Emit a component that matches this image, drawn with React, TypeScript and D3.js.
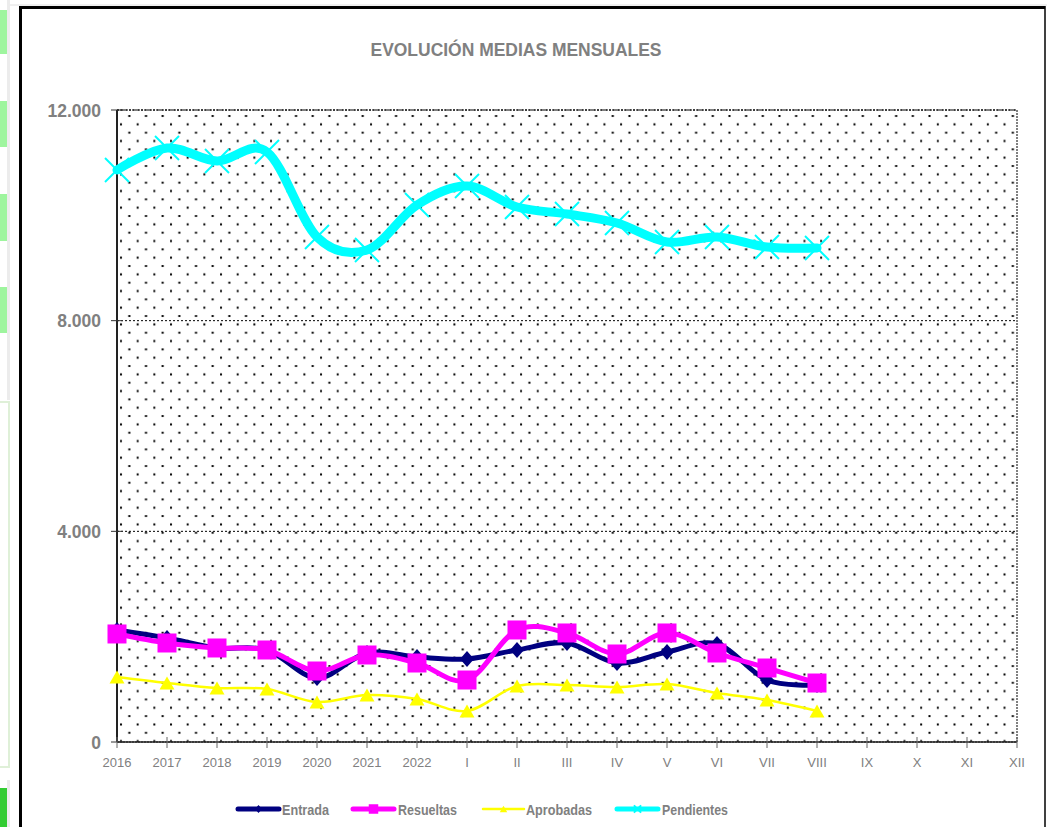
import React from "react";
import * as d3 from "d3";

const categories = ["2016","2017","2018","2019","2020","2021","2022","I","II","III","IV","V","VI","VII","VIII","IX","X","XI","XII"];
const entrada = [2127,1975,1785,1747,1215,1690,1614,1576,1747,1880,1500,1709,1861,1177,1082];
const resueltas = [2051,1880,1785,1747,1348,1652,1500,1177,2127,2070,1671,2070,1690,1405,1120];
const aprobadas = [1234,1120,1025,1006,759,892,816,589,1063,1082,1044,1101,930,797,589];
const pendientes = [10861,11278,11032,11203,9589,9342,10196,10557,10158,10025,9854,9494,9589,9399,9380];
const yTicks = [0,4000,8000,12000];
const yTickLabels = ["0","4.000","8.000","12.000"];
const title = "EVOLUCIÓN MEDIAS MENSUALES";

const W = 1047, H = 827;
const PL = 117, PR = 1017, PT = 110, PB = 742;

type Series = { name: string; values: number[]; color: string; width: number; marker: string };
const series: Series[] = [
  { name: "Entrada", values: entrada, color: "#000080", width: 5, marker: "diamond" },
  { name: "Resueltas", values: resueltas, color: "#ff00ff", width: 5, marker: "square" },
  { name: "Aprobadas", values: aprobadas, color: "#ffff00", width: 2.5, marker: "triangle" },
  { name: "Pendientes", values: pendientes, color: "#00ffff", width: 9, marker: "x" },
];

function Marker({ type, x, y, color, s }: { type: string; x: number; y: number; color: string; s: number }) {
  if (type === "diamond") {
    const w = 7 * s, h = 8 * s;
    return <polygon points={`${x},${y - h} ${x + w},${y} ${x},${y + h} ${x - w},${y}`} fill={color} />;
  }
  if (type === "square") {
    const a = 9.5 * s;
    return <rect x={x - a} y={y - a} width={2 * a} height={2 * a} fill={color} />;
  }
  if (type === "triangle") {
    const w = 7.5 * s, h = 6.5 * s;
    return <polygon points={`${x},${y - h} ${x + w},${y + h} ${x - w},${y + h}`} fill={color} />;
  }
  const a = 12 * s;
  return (
    <g stroke={color} strokeWidth={2}>
      <line x1={x - a} y1={y - a} x2={x + a} y2={y + a} />
      <line x1={x - a} y1={y + a} x2={x + a} y2={y - a} />
    </g>
  );
}

export default function App() {
  const x = d3.scalePoint<string>().domain(categories).range([PL, PR]).padding(0);
  const y = d3.scaleLinear().domain([0, 12000]).range([PB, PT]);
  const line = d3
    .line<number>()
    .x((_, i) => x(categories[i]) as number)
    .y((d) => y(d))
    .curve(d3.curveCardinal.tension(0));

  const legendItems = [
    { lx: 238, tx: 282, tw: 47 },
    { lx: 353, tx: 398, tw: 59 },
    { lx: 483, tx: 526, tw: 66 },
    { lx: 617, tx: 662, tw: 66 },
  ];
  const legendLineW = [5, 5, 2.5, 5];

  return (
    <svg width={W} height={H} style={{ position: "absolute", left: 0, top: 0, background: "#fff" }} fontFamily="Liberation Sans, Arial, sans-serif">
      <defs>
        <pattern id="dots" patternUnits="userSpaceOnUse" x={120} y={115} width={16.67} height={16.67}>
          <rect x={8.33} y={0} width={2} height={2} fill="#000" />
          <rect x={0} y={8.33} width={2} height={2} fill="#000" />
        </pattern>
      </defs>
      {/* left page fragment */}
      <rect x={7} y={0} width={3} height={400} fill="#ececec" />
      {[[10, 54], [101, 147], [194, 241], [287, 333]].map(([a, b], i) => (
        <rect key={i} x={0} y={a} width={7} height={b - a} fill="#9ef59e" />
      ))}
      <rect x={-1} y={402} width={10} height={365} fill="none" stroke="#dff0d8" strokeWidth={2} />
      <rect x={7} y={780} width={3} height={47} fill="#ececec" />
      <rect x={0} y={788} width={7} height={39} fill="#33cc33" />
      {/* chart frame */}
      <line x1={10} y1={5} x2={W} y2={5} stroke="#e0e0e0" strokeWidth={1} />
      <line x1={19} y1={7.5} x2={1045} y2={7.5} stroke="#000" strokeWidth={3} />
      <line x1={20.5} y1={6} x2={20.5} y2={H} stroke="#000" strokeWidth={3} />
      <line x1={1045} y1={6} x2={1045} y2={H} stroke="#000" strokeWidth={1.5} />

      <text x={516} y={56} textAnchor="middle" fontSize={17.5} fontWeight="bold" fill="#808080" textLength={291} lengthAdjust="spacingAndGlyphs">{title}</text>

      {/* plot area */}
      <rect x={PL} y={PT} width={PR - PL} height={PB - PT} fill="url(#dots)" />
      <rect x={PL} y={PT} width={PR - PL} height={PB - PT} fill="none" stroke="#000" strokeWidth={1} strokeDasharray="2,1" />
      {yTicks.slice(1).map((t) => (
        <line key={t} x1={PL} x2={PR} y1={y(t)} y2={y(t)} stroke="#000" strokeWidth={1} strokeDasharray="2,2" />
      ))}
      {/* axes */}
      <line x1={PL} x2={PL} y1={PT} y2={PB} stroke="#222" strokeWidth={2} />
      <line x1={PL} x2={PR} y1={PB} y2={PB} stroke="#222" strokeWidth={1.5} />
      {yTicks.map((t, i) => (
        <g key={t}>
          <line x1={111} x2={123} y1={y(t)} y2={y(t)} stroke="#333" strokeWidth={1} />
          <text x={101} y={y(t) + 6.5} textAnchor="end" fontSize={17.5} fontWeight="bold" fill="#808080">{yTickLabels[i]}</text>
        </g>
      ))}
      {categories.map((c) => (
        <g key={c}>
          <line x1={x(c)} x2={x(c)} y1={737} y2={748} stroke="#666" strokeWidth={1} />
          <text x={x(c)} y={767} textAnchor="middle" fontSize={13} fill="#808080">{c}</text>
        </g>
      ))}

      {/* series */}
      {series.map((s) => (
        <g key={s.name}>
          <path d={line(s.values) || ""} fill="none" stroke={s.color} strokeWidth={s.width} strokeLinejoin="round" strokeLinecap="round" />
          {s.values.map((v, i) => (
            <Marker key={i} type={s.marker} x={x(categories[i]) as number} y={y(v)} color={s.color} s={1} />
          ))}
        </g>
      ))}

      {/* legend */}
      {series.map((s, i) => {
        const it = legendItems[i];
        return (
          <g key={s.name}>
            <line x1={it.lx} x2={it.lx + 41} y1={809} y2={809} stroke={s.color} strokeWidth={legendLineW[i]} strokeLinecap="round" />
            <Marker type={s.marker} x={it.lx + 20.5} y={809} color={s.color} s={s.marker === "x" ? 0.3 : 0.5} />
            <text x={it.tx} y={815} fontSize={15.5} fontWeight="bold" fill="#808080" textLength={it.tw} lengthAdjust="spacingAndGlyphs">{s.name}</text>
          </g>
        );
      })}
    </svg>
  );
}
